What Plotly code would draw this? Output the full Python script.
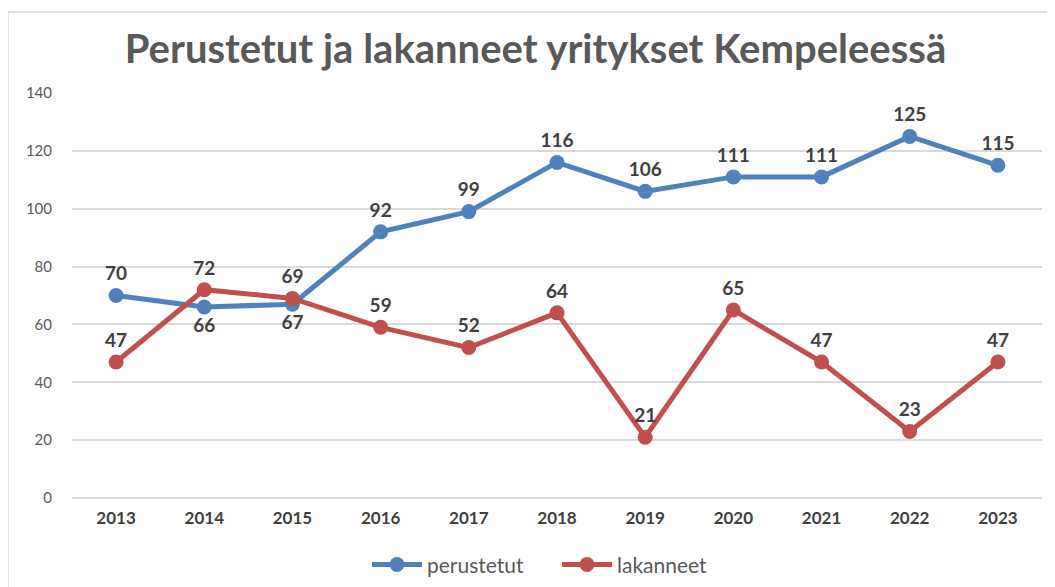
import plotly.graph_objects as go

years = ['2013', '2014', '2015', '2016', '2017', '2018', '2019', '2020', '2021', '2022', '2023']
perustetut = [70, 66, 67, 92, 99, 116, 106, 111, 111, 125, 115]
lakanneet = [47, 72, 69, 59, 52, 64, 21, 65, 47, 23, 47]

# where Excel put the blue labels (below for 2014 and 2015)
per_pos = ['top center', 'bottom center', 'bottom center'] + ['top center'] * 8
lak_pos = ['top center'] * 11

BLUE = '#4F81BD'
RED = '#C0504D'
label_font = dict(family='Lato, Open Sans, sans-serif', size=19, color='#404040')

fig = go.Figure()

fig.add_trace(go.Scatter(x=years, y=perustetut, name='perustetut',
                         mode='lines+markers+text',
                         line=dict(color=BLUE, width=5),
                         marker=dict(color=BLUE, size=15),
                         text=[f'<b>{v}</b>' for v in perustetut],
                         textposition=per_pos,
                         textfont=label_font,
                         cliponaxis=False))

fig.add_trace(go.Scatter(x=years, y=lakanneet, name='lakanneet',
                         mode='lines+markers+text',
                         line=dict(color=RED, width=5),
                         marker=dict(color=RED, size=15),
                         text=[f'<b>{v}</b>' for v in lakanneet],
                         textposition=lak_pos,
                         textfont=label_font,
                         cliponaxis=False))

# the page body adds 8px on the left and top, margins account for it
fig.update_layout(
    width=1055, height=587,
    margin=dict(l=64, r=21, t=85, b=97, autoexpand=False),
    paper_bgcolor='white',
    plot_bgcolor='white',
    title=dict(text='<b>Perustetut ja lakanneet yritykset Kempeleessä</b>',
               x=0.5, xanchor='center', y=1 - 41 / 587, yanchor='middle',
               font=dict(family='Lato, Open Sans, sans-serif', size=40, color='#595959')),
    xaxis=dict(range=[-0.5, 10.5], showgrid=False, showline=False, ticks='', automargin=False,
               tickfont=dict(family='Lato, sans-serif', size=17, color='#404040'),
               tickvals=years, ticktext=[f'<b>{y}</b>' for y in years],
               ticklabelstandoff=8),
    yaxis=dict(range=[0, 140], dtick=20, showgrid=True, gridcolor='#D9D9D9', gridwidth=1.5,
               zeroline=True, zerolinecolor='#D9D9D9', zerolinewidth=1.5, automargin=False,
               tickfont=dict(family='Lato, sans-serif', size=15, color='#595959'),
               ticklabelstandoff=19),
    legend=dict(orientation='h', x=0.5, xanchor='center', y=-0.165, yanchor='middle',
                font=dict(family='Lato, sans-serif', size=21, color='#595959'),
                itemwidth=50, tracegroupgap=0,
                entrywidth=125, entrywidthmode='pixels'),
    showlegend=True,
)

# thin frame of the Excel chart area
fig.add_shape(type='rect', xref='paper', yref='paper',
              x0=-0.066, x1=1.03, y0=-0.3, y1=1.2,
              line=dict(color='#D9D9D9', width=1.5), layer='below')

fig.write_html('out.html')
